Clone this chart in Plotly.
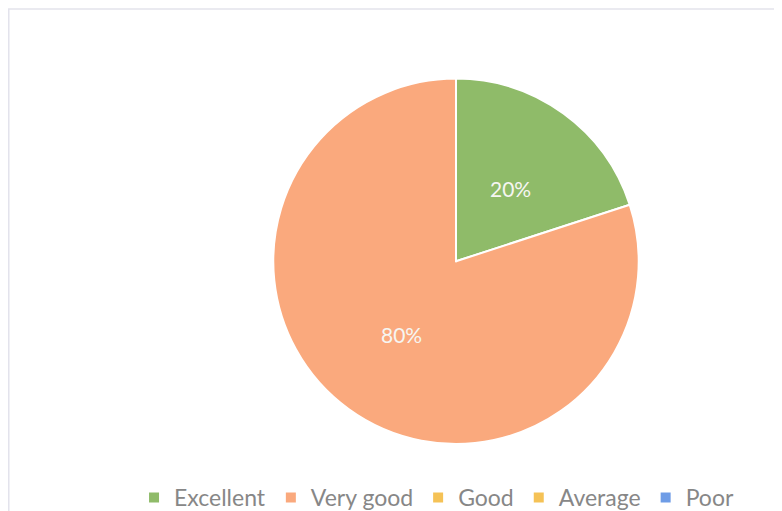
import math
import plotly.graph_objects as go

labels = ["Excellent", "Very good", "Good", "Average", "Poor"]
values = [20, 80, 0, 0, 0]
colors = ["#8FBB69", "#FAA97D", "#F5C256", "#F5C256", "#6E9CE6"]

W, H = 782, 511
cx, cy, r = 448, 262, 189

fig = go.Figure()
fig.add_trace(go.Pie(
    labels=labels, values=values, sort=False, direction="clockwise", rotation=0,
    marker=dict(colors=colors, line=dict(color="white", width=2)),
    textinfo="none",
    domain=dict(x=[(cx - r) / W, (cx + r) / W], y=[1 - (cy + r) / H, 1 - (cy - r) / H]),
    hoverinfo="skip",
))

# percentage labels placed at about half radius along each slice's mid-angle
total = sum(values)
acc = 0
annotations = []
rr = 0.51 * 183
for v in values:
    if v > 0:
        mid = (acc + v / 2) / total * 2 * math.pi
        px = cx + rr * math.sin(mid)
        py = cy - rr * math.cos(mid)
        annotations.append(dict(xref="paper", yref="paper", x=px / W, y=1 - py / H,
                                text=f"{v / total:.0%}", showarrow=False,
                                font=dict(color="#F6F6F2", size=21, family="Lato")))
    acc += v

fig.update_layout(
    width=W, height=H, margin=dict(l=0, r=0, t=0, b=0),
    paper_bgcolor="white", plot_bgcolor="white",
    showlegend=True,
    legend=dict(orientation="h", x=0.548, xanchor="center", y=0.009, yanchor="middle",
                font=dict(size=23, color="#878787", family="Lato"),
                itemwidth=30, traceorder="normal"),
    annotations=annotations,
    shapes=[dict(type="rect", xref="paper", yref="paper", x0=0.001, x1=1.05,
                 y0=-0.1, y1=1 - 1 / H, line=dict(color="#E3E3EC", width=1.5))],
)
fig.write_html("out.html")
